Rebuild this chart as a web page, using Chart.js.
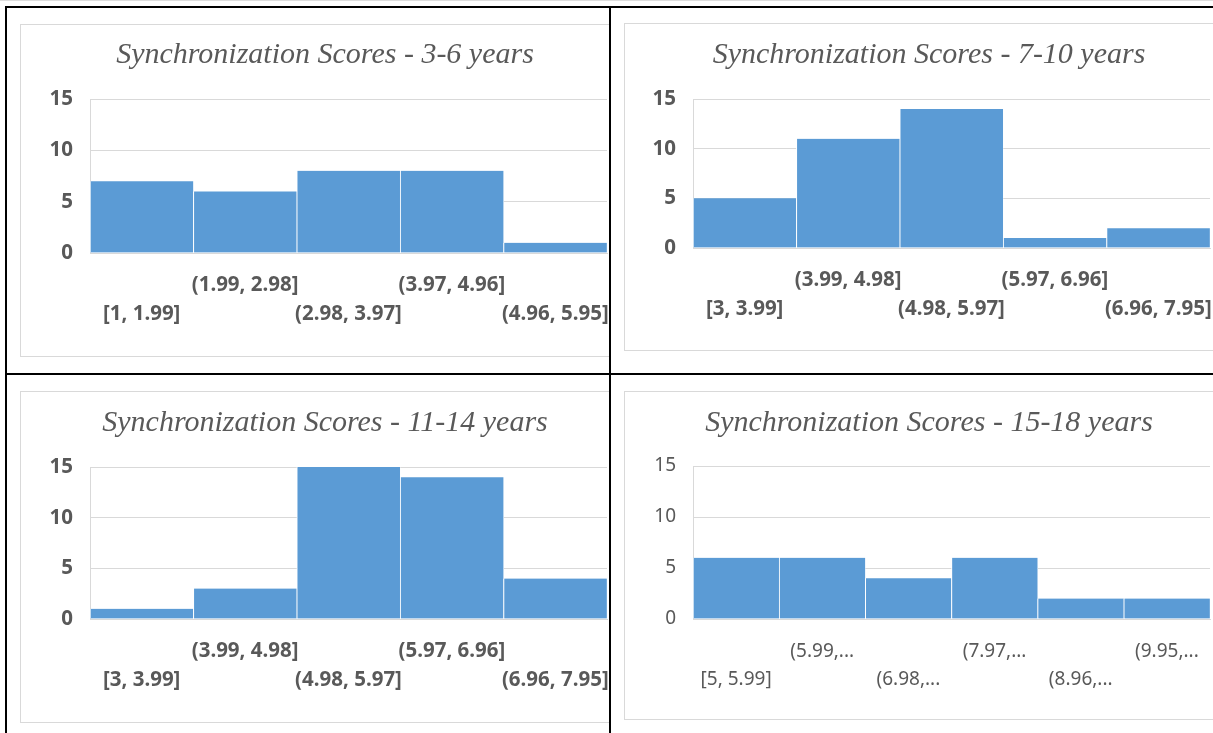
<!DOCTYPE html>
<html>
<head>
<meta charset="utf-8">
<script src="https://cdn.jsdelivr.net/npm/chart.js@4/dist/chart.umd.min.js"></script>
<style>
  html, body { margin: 0; padding: 0; background: #ffffff; }
  #page { position: relative; width: 1213px; height: 733px; overflow: hidden; background: #ffffff; }
  .rule { position: absolute; background: #000000; }
  .clip { position: absolute; overflow: hidden; }
  .frame { position: absolute; box-sizing: border-box; border: 1px solid #d9d9d9; background: #ffffff; }
  canvas { position: absolute; }
</style>
</head>
<body>
<div id="page">
  <div class="rule" style="left:0;top:0;width:1213px;height:1px;background:#dddddd"></div>
  <div class="rule" style="left:5px;top:6px;width:1208px;height:2px"></div>
  <div class="rule" style="left:5px;top:373px;width:1208px;height:2px"></div>

  <div class="clip" style="left:0;top:8px;width:609px;height:365px">
    <div class="frame" style="left:20px;top:16px;width:610px;height:333px"></div>
    <canvas id="c36" width="610" height="333" style="left:20px;top:16px"></canvas>
  </div>
  <div class="clip" style="left:611px;top:8px;width:602px;height:365px">
    <div class="frame" style="left:13px;top:15px;width:610px;height:328px"></div>
    <canvas id="c710" width="610" height="328" style="left:13px;top:15px"></canvas>
  </div>
  <div class="clip" style="left:0;top:375px;width:609px;height:358px">
    <div class="frame" style="left:20px;top:16px;width:610px;height:332px"></div>
    <canvas id="c1114" width="610" height="332" style="left:20px;top:16px"></canvas>
  </div>
  <div class="clip" style="left:611px;top:375px;width:602px;height:358px">
    <div class="frame" style="left:13px;top:16px;width:610px;height:329px"></div>
    <canvas id="c1518" width="610" height="329" style="left:13px;top:16px"></canvas>
  </div>

  <div class="rule" style="left:5px;top:6px;width:2px;height:727px"></div>
  <div class="rule" style="left:609px;top:6px;width:2px;height:727px"></div>
</div>

<script>
// Score bins and participant counts for each age group
const bins3to6 = ['[1, 1.99]', '(1.99, 2.98]', '(2.98, 3.97]', '(3.97, 4.96]', '(4.96, 5.95]'];
const counts3to6 = [7, 6, 8, 8, 1];

const bins7to10 = ['[3, 3.99]', '(3.99, 4.98]', '(4.98, 5.97]', '(5.97, 6.96]', '(6.96, 7.95]'];
const counts7to10 = [5, 11, 14, 1, 2];

const bins11to14 = ['[3, 3.99]', '(3.99, 4.98]', '(4.98, 5.97]', '(5.97, 6.96]', '(6.96, 7.95]'];
const counts11to14 = [1, 3, 15, 14, 4];

const bins15to18 = ['[5, 5.99]', '(5.99,...', '(6.98,...', '(7.97,...', '(8.96,...', '(9.95,...'];
const counts15to18 = [6, 6, 4, 6, 2, 2];

const countTicks = [0, 5, 10, 15];

const titles = {
  c36: 'Synchronization Scores - 3-6 years',
  c710: 'Synchronization Scores - 7-10 years',
  c1114: 'Synchronization Scores - 11-14 years',
  c1518: 'Synchronization Scores - 15-18 years'
};

const TEXT = '#595959';
const GRID = '#d9d9d9';
const BAR = '#5b9bd5';

// Build one histogram; box = plot-area edges inside its canvas
function histogram(id, bins, counts, box, bold) {
  const canvas = document.getElementById(id);
  const W = canvas.width, H = canvas.height;
  const side = W - box.right;          // equal side padding keeps the title centred on the canvas
  const titleSize = 30;
  const titleLH = 36;
  const weight = bold ? 'bold' : 'normal';
  const tickSize = bold ? 20.5 : 19;
  return new Chart(canvas, {
    type: 'bar',
    data: {
      labels: bins,
      datasets: [{
        data: counts,
        backgroundColor: BAR,
        borderColor: '#ffffff',
        borderWidth: { left: 1, right: 0.5, top: 0, bottom: 0 },
        borderSkipped: false,
        barPercentage: 1,
        categoryPercentage: 1
      }]
    },
    options: {
      responsive: false,
      animation: false,
      devicePixelRatio: 1,
      layout: { padding: { left: side, right: side, top: 0, bottom: 0 } },
      plugins: {
        legend: { display: false },
        tooltip: { enabled: false },
        title: {
          display: true,
          text: titles[id],
          color: TEXT,
          font: { family: '"Liberation Serif", serif', style: 'italic', weight: 'normal', size: titleSize, lineHeight: titleLH + 'px' },
          padding: { top: box.titleY - titleLH / 2, bottom: box.top - box.titleY - titleLH / 2 }
        }
      },
      scales: {
        x: {
          grid: { display: false, drawTicks: false },
          border: { display: true, color: GRID, width: 1 },
          afterFit: s => { s.height = H - box.bottom; },
          ticks: {
            autoSkip: false,
            maxRotation: 0,
            minRotation: 0,
            padding: 18,
            color: TEXT,
            font: { family: '"Noto Sans", sans-serif', weight: weight, size: tickSize, lineHeight: '28.5px' },
            // alternate bins sit on the lower row so neighbours do not collide
            callback: (v, i) => (i % 2 === 0 ? ['', bins[i]] : [bins[i]])
          }
        },
        y: {
          min: countTicks[0],
          max: countTicks[countTicks.length - 1],
          afterFit: s => { s.width = box.left - side; },
          afterBuildTicks: s => { s.ticks = countTicks.map(v => ({ value: v })); },
          grid: { color: GRID, lineWidth: 1, drawTicks: false },
          border: { display: true, color: GRID, width: 1 },
          ticks: {
            padding: 17,
            color: TEXT,
            font: { family: '"Noto Sans", sans-serif', weight: weight, size: tickSize }
          }
        }
      }
    }
  });
}

histogram('c36', bins3to6, counts3to6, { left: 70, right: 587, top: 75, bottom: 229, titleY: 31 }, true);
histogram('c710', bins7to10, counts7to10, { left: 69, right: 586, top: 76, bottom: 225, titleY: 32 }, true);
histogram('c1114', bins11to14, counts11to14, { left: 70, right: 587, top: 76, bottom: 228, titleY: 32 }, true);
histogram('c1518', bins15to18, counts15to18, { left: 69, right: 586, top: 75, bottom: 228, titleY: 32 }, false);
</script>
</body>
</html>
